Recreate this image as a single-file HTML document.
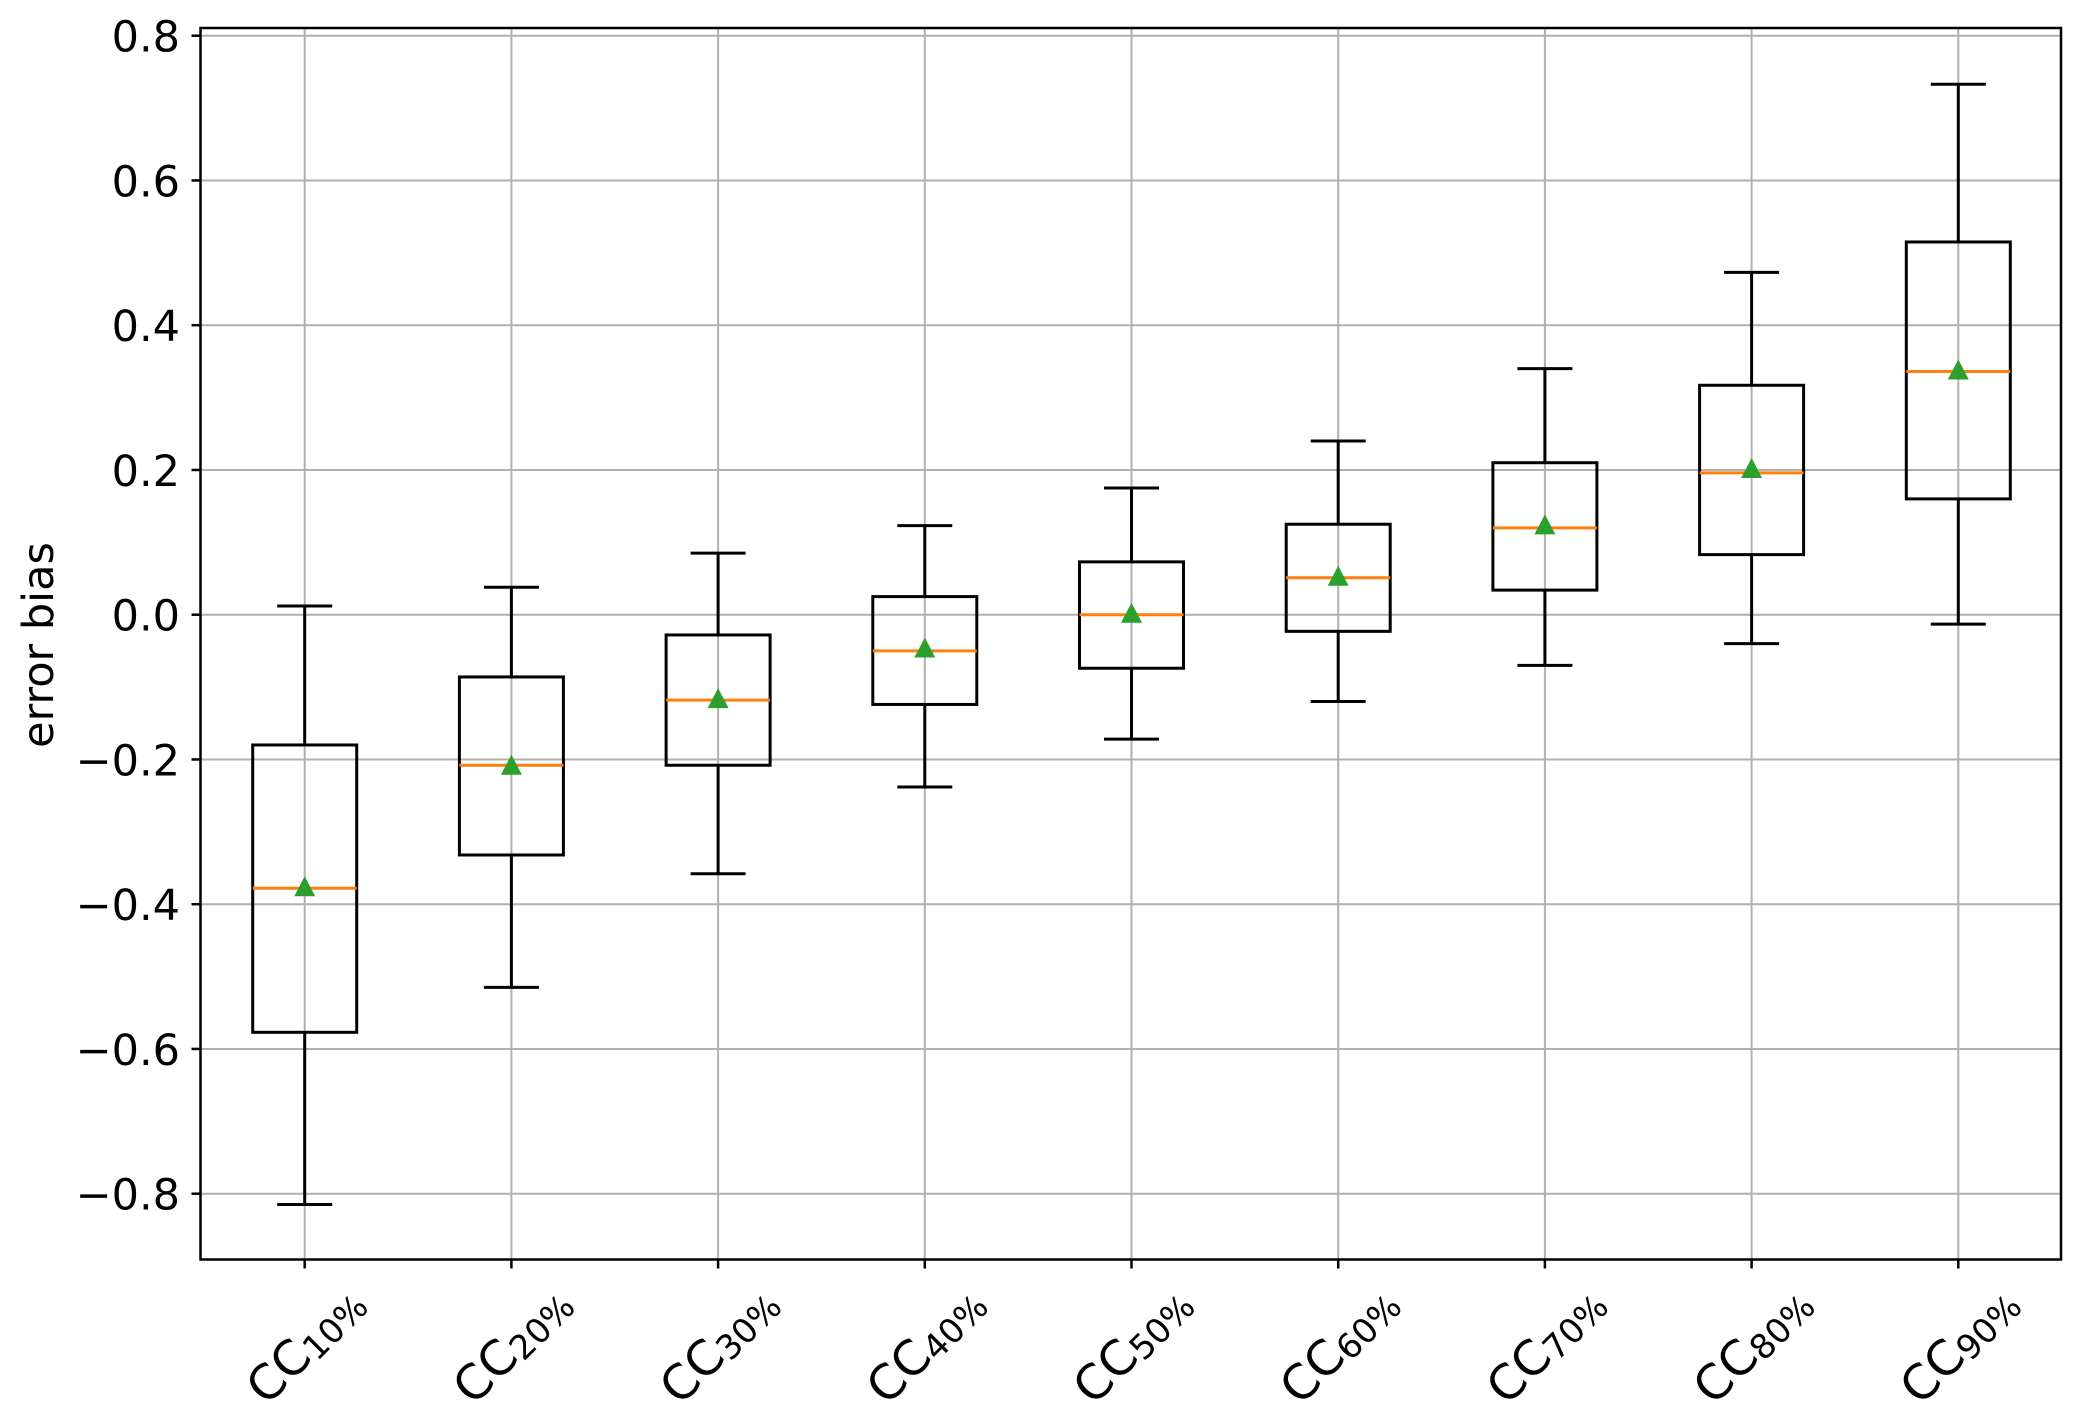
<!DOCTYPE html>
<html><head><meta charset="utf-8"><style>
html,body{margin:0;padding:0;background:#fff;}
svg{display:block;font-family:"DejaVu Sans","Liberation Sans",sans-serif;}
</style></head><body>
<svg id="s" width="2081" height="1424" viewBox="0 0 2081 1424" xmlns="http://www.w3.org/2000/svg"></svg>
<script>
const s=document.getElementById('s');
const L=200.5,T=28,R=2061,B=1259.5;
const Y=v=>614.7-723.75*v;
const X=i=>304.7+206.7*i;
let h='<rect x="0" y="0" width="2081" height="1424" fill="#fff"/>';
for(let k=-4;k<=4;k++){const v=k*0.2,y=Y(v);
h+=`<line x1="${L}" x2="${R}" y1="${y}" y2="${y}" stroke="#b0b0b0" stroke-width="2"/>`;
h+=`<line x1="191.5" x2="${L}" y1="${y}" y2="${y}" stroke="#000" stroke-width="2.5"/>`;
const lab=(v<0?'\u2212':'')+Math.abs(v).toFixed(1);
h+=`<text x="180" y="${y+16}" font-size="43" text-anchor="end">${lab}</text>`;}
for(let i=0;i<9;i++){const x=X(i);
h+=`<line x1="${x}" x2="${x}" y1="${T}" y2="${B}" stroke="#b0b0b0" stroke-width="2"/>`;
h+=`<line x1="${x}" x2="${x}" y1="${B}" y2="${B+9}" stroke="#000" stroke-width="2.5"/>`;
h+=`<text transform="translate(${x+1},1345) rotate(-45)" text-anchor="middle" dominant-baseline="central" font-size="48">CC<tspan font-size="34" dy="9">${(i+1)*10}%</tspan></text>`;}
const d=[[0.012,-0.815,-0.18,-0.577,-0.378,-0.378],[0.038,-0.515,-0.086,-0.332,-0.208,-0.21],[0.085,-0.358,-0.028,-0.208,-0.118,-0.118],[0.123,-0.238,0.025,-0.124,-0.05,-0.048],[0.175,-0.172,0.073,-0.074,0,0],[0.24,-0.12,0.125,-0.023,0.051,0.051],[0.34,-0.07,0.21,0.034,0.12,0.122],[0.473,-0.04,0.317,0.083,0.196,0.2],[0.733,-0.013,0.515,0.16,0.336,0.336]];
d.forEach((r,i)=>{const x=X(i);const [wh,wl,q3,q1,md,mn]=r;const st='stroke="#000" stroke-width="3"';
h+=`<line x1="${x}" x2="${x}" y1="${Y(wh)}" y2="${Y(q3)}" ${st}/>`;
h+=`<line x1="${x}" x2="${x}" y1="${Y(q1)}" y2="${Y(wl)}" ${st}/>`;
h+=`<line x1="${x-27.5}" x2="${x+27.5}" y1="${Y(wh)}" y2="${Y(wh)}" ${st}/>`;
h+=`<line x1="${x-27.5}" x2="${x+27.5}" y1="${Y(wl)}" y2="${Y(wl)}" ${st}/>`;
h+=`<rect x="${x-52}" y="${Y(q3)}" width="104" height="${Y(q1)-Y(q3)}" fill="none" ${st}/>`;
h+=`<line x1="${x-52}" x2="${x+52}" y1="${Y(md)}" y2="${Y(md)}" stroke="#ff7f0e" stroke-width="3"/>`;
const my=Y(mn);
h+=`<polygon points="${x},${my-12} ${x+10.5},${my+8} ${x-10.5},${my+8}" fill="#2ca02c"/>`;});
h+=`<rect x="${L}" y="${T}" width="${R-L}" height="${B-T}" fill="none" stroke="#000" stroke-width="2.5"/>`;
h+=`<text transform="translate(53,645) rotate(-90)" text-anchor="middle" font-size="43">error bias</text>`;
s.innerHTML=h;
</script>
</body></html>
